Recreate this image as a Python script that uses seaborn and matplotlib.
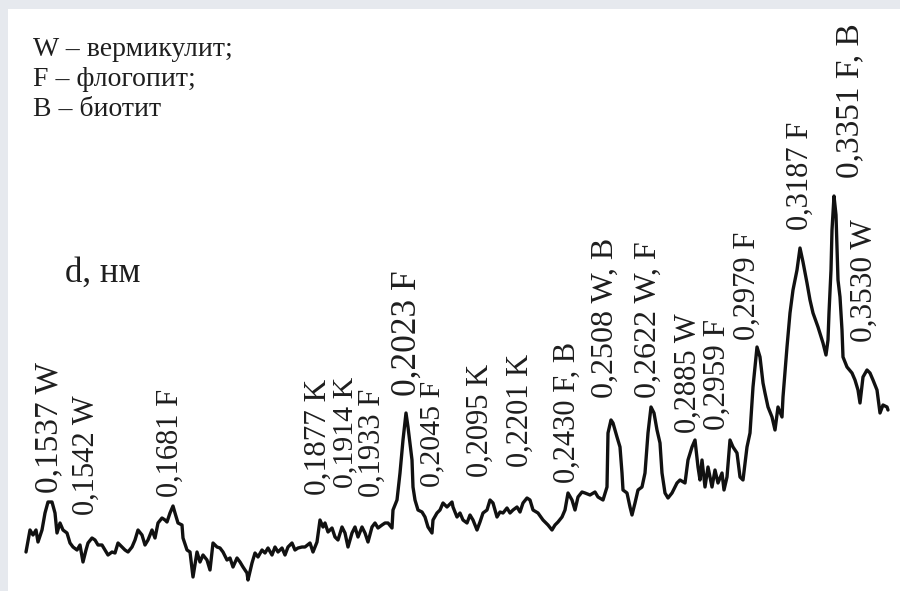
# imports
import pandas as pd
import matplotlib
matplotlib.use("Agg")
import matplotlib.pyplot as plt
import seaborn as sns

# diffractogram trace (position along the scan, intensity in arb. units)
position = [
    26, 30, 33, 36, 38, 42, 45, 48, 52, 55,
    57, 60, 63, 67, 70, 73, 77, 80, 83, 86,
    88, 92, 95, 98, 102, 105, 108, 112, 115, 118,
    122, 125, 128, 132, 135, 138, 142, 145, 148, 152,
    155, 158, 162,
    165, 167, 170, 173, 175, 178, 182, 183, 187, 190,
    193, 197, 200, 203, 207, 210, 213, 217, 220, 223,
    227, 230, 233, 237, 240, 243, 247, 248, 252, 255,
    258, 262, 265, 268, 272, 275, 278, 282, 285, 288,
    292, 295, 298, 302,
    305, 310, 313, 317, 320, 323, 325, 328, 332, 335,
    338, 342, 345, 348, 352, 355, 358, 362, 365, 368,
    372, 375, 378, 382, 385, 388, 392, 393, 397, 400,
    403, 406, 408, 412, 413, 415, 418, 422, 425, 428,
    432, 433, 437, 440, 443, 447, 452,
    453, 457, 460, 463, 467, 470, 473, 477, 480, 483,
    487, 490, 493, 497, 500, 503, 507, 510, 513, 517,
    520, 523, 527, 530, 533, 538, 543, 548, 552, 555,
    558, 562, 565, 568, 572, 575, 578, 582, 585, 590,
    595,
    598, 603, 607, 608, 611, 613, 617, 620, 622, 623,
    627, 630, 632, 635, 638, 642, 645, 648, 651, 654,
    657, 660, 662, 665, 668, 672, 677, 680, 685, 688,
    692, 695, 698, 700, 702, 705, 708, 712, 715, 718,
    722, 724, 727, 730, 733, 737, 740, 743, 747, 750,
    753, 757, 760, 763, 765, 768, 772, 775, 778, 782,
    783, 787, 790, 793, 797, 800, 803, 807, 810, 813,
    818, 823, 826, 828, 829, 831, 832, 834, 836, 838,
    840, 842, 843, 847, 852, 855, 858, 860, 863, 867,
    870, 873, 877, 880, 883, 887, 888,
]
intensity = [
    39, 61, 56, 61, 49, 61, 78, 89, 89, 78,
    58, 68, 61, 58, 48, 44, 41, 46, 29, 41,
    48, 53, 51, 46, 46, 41, 36, 39, 38, 48,
    44, 41, 39, 44, 51, 61, 56, 46, 51, 61,
    53, 68, 73,
    71, 69, 78, 85, 78, 68, 66, 53, 41, 39,
    14, 39, 29, 36, 31, 21, 48, 44, 43, 39,
    31, 33, 24, 33, 29, 24, 18, 11, 28, 38,
    34, 41, 38, 43, 36, 44, 39, 43, 36, 44,
    48, 41, 43, 44,
    44, 48, 39, 49, 71, 64, 68, 59, 63, 54,
    51, 64, 58, 44, 58, 64, 54, 64, 58, 49,
    64, 68, 63, 66, 68, 68, 63, 81, 91, 118,
    151, 178, 164, 131, 104, 91, 81, 79, 74, 64,
    58, 71, 78, 81, 88, 84, 89,
    84, 74, 78, 71, 68, 76, 71, 61, 69, 78,
    81, 91, 88, 74, 79, 78, 83, 78, 81, 84,
    79, 88, 93, 91, 81, 78, 71, 66, 61, 66,
    69, 74, 81, 98, 91, 81, 94, 99, 98, 96,
    99,
    94, 91, 104, 158, 171, 168, 154, 144, 118, 101,
    98, 84, 76, 88, 101, 104, 118, 158, 184, 178,
    161, 148, 118, 98, 93, 98, 108, 111, 108, 131,
    144, 151, 124, 111, 131, 104, 124, 104, 121, 108,
    118, 101, 114, 151, 144, 138, 114, 111, 144, 158,
    204, 244, 234, 208, 198, 184, 174, 161, 184, 174,
    194, 244, 278, 301, 321, 343, 329, 308, 291, 278,
    264, 248, 236, 251, 278, 321, 361, 395, 376, 311,
    294, 261, 234, 224, 218, 211, 201, 188, 214, 221,
    218, 211, 201, 178, 186, 184, 181,
]

# peak labels (d, nm + phase) and where they sit on the scan
peak_labels = ["0,1537 W", "0,1542 W", "0,1681 F", "0,1877 K", "0,1914 K",
               "0,1933 F", "0,2023 F", "0,2045 F", "0,2095 K", "0,2201 K",
               "0,2430 F, B", "0,2508 W, B", "0,2622 W, F", "0,2885 W", "0,2959 F",
               "0,2979 F", "0,3187 F", "0,3351 F, B", "0,3530 W"]
peak_pos = [49, 86, 170, 318, 345, 372, 407, 432, 480, 520,
            567, 605, 648, 688, 717, 747, 800, 850, 864]
label_base = [98, 76, 94, 96, 103, 94, 195, 104, 114, 124,
              108, 193, 193, 158, 161, 251, 361, 413, 249]

legend_lines = ["W – вермикулит;", "F – флогопит;", "B – биотит"]

df = pd.DataFrame({"pos": position, "I": intensity})

sns.set_style("white")
plt.rcParams['font.family'] = ['Liberation Serif', 'DejaVu Serif']

fig = plt.figure(figsize=(9, 5.91), dpi=100)
fig.patch.set_facecolor("#e6e9ee")
ax = fig.add_axes([8 / 900, 0, 892 / 900, 582 / 591])
ax.set_facecolor("white")

sns.lineplot(data=df, x="pos", y="I", sort=False, estimator=None,
             color="#111111", linewidth=2.4, ax=ax)

# a few labels are printed larger in the source figure
label_size = [24, 22, 22, 22.5, 21.5, 22, 25.5, 21.5, 22, 22,
              22, 23, 23, 22, 22.5, 22, 22, 24, 22.5]
for lab, x, b, fs in zip(peak_labels, peak_pos, label_base, label_size):
    ax.text(x, b, lab, rotation=90, ha="center", va="bottom",
            fontsize=fs, color="#1e1e1e")

for i, line in enumerate(legend_lines):
    ax.text(33, 542 - 30 * i, line, ha="left", va="center",
            fontsize=20, color="#1e1e1e")

ax.text(65, 318, "d, нм", ha="left", va="center", fontsize=25, color="#1e1e1e")

ax.set_xlim(8, 900)
ax.set_ylim(0, 582)
ax.set_xticks([])
ax.set_yticks([])
ax.set_xlabel("")
ax.set_ylabel("")
sns.despine(ax=ax, left=True, bottom=True)

plt.savefig("out.png", dpi=100, facecolor=fig.get_facecolor())
